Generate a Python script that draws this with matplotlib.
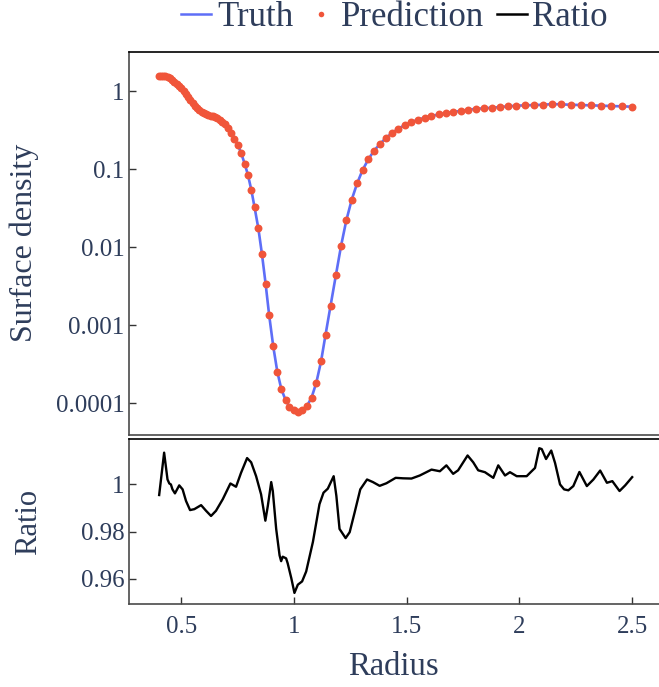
import matplotlib
matplotlib.use("Agg")
import matplotlib.pyplot as plt
from matplotlib.lines import Line2D

# ---- data ----
radius = [0.40, 0.41, 0.42, 0.43, 0.44, 0.45, 0.46, 0.47, 0.48, 0.49,
          0.50, 0.51, 0.52, 0.53, 0.54, 0.55, 0.56, 0.57, 0.58, 0.59,
          0.60, 0.61, 0.62, 0.63, 0.64, 0.65, 0.66, 0.67, 0.68, 0.692,
          0.707, 0.722, 0.736, 0.752, 0.766, 0.781, 0.796, 0.811, 0.825, 0.842,
          0.858, 0.874, 0.890, 0.908, 0.926, 0.944, 0.963, 0.980, 1.000, 1.018,
          1.037, 1.058, 1.078, 1.099, 1.120, 1.140, 1.162, 1.186, 1.209, 1.232,
          1.256, 1.280, 1.304, 1.330, 1.355, 1.382, 1.409, 1.436, 1.463, 1.491,
          1.520, 1.550, 1.579, 1.609, 1.642, 1.673, 1.705, 1.739, 1.772, 1.807,
          1.841, 1.877, 1.912, 1.949, 1.986, 2.026, 2.065, 2.105, 2.145, 2.186,
          2.227, 2.272, 2.316, 2.362, 2.408, 2.453, 2.500]

truth = [1.570, 1.574, 1.574, 1.567, 1.524, 1.455, 1.387, 1.312, 1.242, 1.161,
         1.084, 1.000, 0.925, 0.845, 0.773, 0.708, 0.649, 0.600, 0.565, 0.542,
         0.524, 0.508, 0.495, 0.485, 0.474, 0.461, 0.447, 0.428, 0.405, 0.378,
         0.338, 0.292, 0.244, 0.201, 0.159, 0.118, 0.0838, 0.0538, 0.0326, 0.0174,
         0.00813, 0.00343, 0.00134, 0.000538, 0.000255, 0.000152, 0.000110, 0.0000908, 0.0000813, 0.0000783,
         0.0000813, 0.0000935, 0.000119, 0.000184, 0.000345, 0.000760, 0.00177, 0.00442, 0.0105, 0.0220,
         0.0406, 0.0656, 0.0971, 0.134, 0.172, 0.211, 0.252, 0.292, 0.329, 0.366,
         0.401, 0.429, 0.455, 0.478, 0.502, 0.522, 0.538, 0.558, 0.575, 0.593,
         0.600, 0.611, 0.624, 0.637, 0.649, 0.656, 0.662, 0.667, 0.681, 0.675,
         0.667, 0.662, 0.656, 0.649, 0.643, 0.637, 0.630]

prediction = [1.570, 1.574, 1.574, 1.567, 1.524, 1.455, 1.387, 1.312, 1.242, 1.161,
              1.084, 1.000, 0.925, 0.845, 0.773, 0.708, 0.649, 0.600, 0.565, 0.542,
              0.524, 0.508, 0.495, 0.485, 0.474, 0.461, 0.447, 0.428, 0.405, 0.378,
              0.338, 0.292, 0.244, 0.201, 0.159, 0.118, 0.0838, 0.0538, 0.0326, 0.0174,
              0.00813, 0.00343, 0.00134, 0.000538, 0.000255, 0.000152, 0.000110, 0.0000908, 0.0000813, 0.0000783,
              0.0000813, 0.0000935, 0.000119, 0.000184, 0.000345, 0.000760, 0.00177, 0.00442, 0.0105, 0.0220,
              0.0406, 0.0656, 0.0971, 0.134, 0.172, 0.211, 0.252, 0.292, 0.329, 0.366,
              0.401, 0.429, 0.455, 0.478, 0.502, 0.522, 0.538, 0.558, 0.575, 0.593,
              0.600, 0.611, 0.624, 0.637, 0.649, 0.656, 0.662, 0.667, 0.681, 0.675,
              0.667, 0.662, 0.656, 0.649, 0.643, 0.637, 0.630]

ratio_r = [0.402, 0.424, 0.439, 0.447, 0.454, 0.461, 0.472, 0.491, 0.506, 0.521,
           0.539, 0.558, 0.588, 0.610, 0.632, 0.654, 0.684, 0.718, 0.743, 0.765,
           0.792, 0.810, 0.832, 0.854, 0.873, 0.884, 0.899, 0.906, 0.921, 0.936,
           0.943, 0.950, 0.965, 0.972, 0.988, 1.002, 1.017, 1.036, 1.054, 1.084,
           1.113, 1.131, 1.150, 1.176, 1.188, 1.202, 1.229, 1.247, 1.269, 1.294,
           1.324, 1.350, 1.380, 1.410, 1.451, 1.484, 1.521, 1.558, 1.610, 1.647,
           1.676, 1.706, 1.728, 1.770, 1.795, 1.817, 1.847, 1.884, 1.906, 1.936,
           1.958, 1.988, 2.032, 2.054, 2.069, 2.088, 2.099, 2.118, 2.141, 2.158,
           2.180, 2.198, 2.217, 2.239, 2.266, 2.299, 2.328, 2.358, 2.388, 2.412,
           2.444, 2.469, 2.500]

ratio = [0.9955, 1.0135, 1.0021, 1.0004, 1.0000, 0.9979, 0.9962, 0.9996, 0.9979, 0.9930,
         0.9891, 0.9895, 0.9912, 0.9888, 0.9866, 0.9888, 0.9937, 1.0004, 0.9990, 1.0049,
         1.0112, 1.0094, 1.0035, 0.9958, 0.9846, 0.9909, 1.0010, 0.9972, 0.9811, 0.9699,
         0.9674, 0.9693, 0.9686, 0.9665, 0.9602, 0.9539, 0.9574, 0.9588, 0.9630, 0.9756,
         0.9916, 0.9965, 0.9982, 1.0035, 0.9951, 0.9811, 0.9772, 0.9797, 0.9881, 0.9979,
         1.0021, 1.0010, 0.9994, 1.0005, 1.0028, 1.0026, 1.0025, 1.0038, 1.0063, 1.0056,
         1.0081, 1.0045, 1.0060, 1.0123, 1.0094, 1.0060, 1.0052, 1.0028, 1.0081, 1.0038,
         1.0052, 1.0035, 1.0035, 1.0056, 1.0070, 1.0154, 1.0150, 1.0108, 1.0144, 1.0091,
         1.0000, 0.9979, 0.9975, 0.9993, 1.0053, 0.9993, 1.0021, 1.0059, 1.0007, 1.0014,
         0.9972, 0.9996, 1.0031]

top_yticks = [1, 0.1, 0.01, 0.001, 0.0001]
top_yticklabels = ["1", "0.1", "0.01", "0.001", "0.0001"]
bot_yticks = [0.96, 0.98, 1.0]
bot_yticklabels = ["0.96", "0.98", "1"]
xticks = [0.5, 1.0, 1.5, 2.0, 2.5]
xticklabels = ["0.5", "1", "1.5", "2", "2.5"]

# ---- style ----
plt.rcParams['font.family'] = ['Liberation Serif', 'DejaVu Serif']
TXT = '#2e3d5b'
BLUE = '#5e6ef7'
RED = '#f0553a'
SPINE_GREY = '#4a4a4a'

fig = plt.figure(figsize=(6.59, 6.87), dpi=100)
ax1 = fig.add_axes([0.195, 0.3675, 0.805, 0.5568])
ax2 = fig.add_axes([0.195, 0.1215, 0.805, 0.2388])

xlim = (0.266, 2.619)

# top panel
ax1.plot(radius, truth, color=BLUE, lw=1.9, zorder=2)
ax1.plot(radius, prediction, ls='none', marker='o', ms=5.7, color=RED,
         markeredgewidth=0, zorder=3)
ax1.set_yscale('log')
ax1.set_xlim(*xlim)
ax1.set_ylim(4.0e-5, 3.16)
ax1.set_yticks(top_yticks)
ax1.set_yticklabels(top_yticklabels)
ax1.yaxis.set_minor_locator(matplotlib.ticker.NullLocator())
ax1.set_xticks([])
ax1.set_ylabel("Surface density", fontsize=23, color=TXT)
ax1.yaxis.set_label_coords(-0.168, 0.5)

# bottom panel
ax2.plot(ratio_r, ratio, color='black', lw=1.7, solid_joinstyle='round')
ax2.set_xlim(*xlim)
ax2.set_ylim(0.9494, 1.0191)
ax2.set_yticks(bot_yticks)
ax2.set_yticklabels(bot_yticklabels)
ax2.set_xticks(xticks)
ax2.set_xticklabels(xticklabels)
ax2.set_ylabel("Ratio", fontsize=22, color=TXT)
ax2.yaxis.set_label_coords(-0.162, 0.5)
ax2.set_xlabel("Radius", fontsize=23.5, color=TXT, labelpad=10)

for ax in (ax1, ax2):
    ax.spines['right'].set_visible(False)
    ax.spines['top'].set_color('black')
    ax.spines['left'].set_color(SPINE_GREY)
    ax.spines['bottom'].set_color(SPINE_GREY)
    for s in ax.spines.values():
        s.set_linewidth(1.2)
    ax.tick_params(direction='in', length=5, width=1, color='#333333',
                   labelsize=18, labelcolor=TXT, pad=3)
    ax.tick_params(axis='x', pad=9)

# legend
handles = [Line2D([], [], color=BLUE, lw=1.8),
           Line2D([], [], ls='none', marker='o', ms=4, color=RED, markeredgewidth=0),
           Line2D([], [], color='black', lw=1.8)]
leg = fig.legend(handles, ["Truth", "Prediction", "Ratio"], loc='center',
                 bbox_to_anchor=(0.599, 0.974), ncol=3, frameon=False,
                 fontsize=25, handlelength=0.86, handletextpad=0.17,
                 columnspacing=0.35, numpoints=1, borderaxespad=0, borderpad=0)
for t in leg.get_texts():
    t.set_color(TXT)

fig.savefig("out.png", dpi=100)
